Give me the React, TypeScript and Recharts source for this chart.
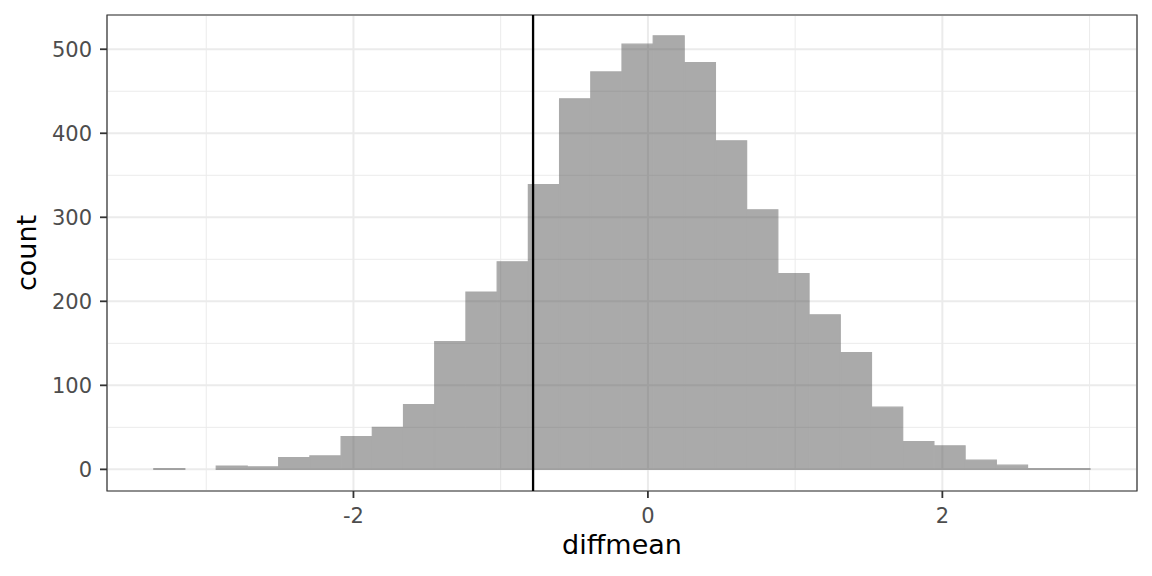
import { Bar, BarChart, CartesianGrid, Label, ReferenceArea, ReferenceLine, XAxis, YAxis } from 'recharts'

// histogram bins (30 bins, width ~0.212)
const binCenters = [
  -3.25, -3.038, -2.826, -2.614, -2.402, -2.19, -1.978, -1.766, -1.554, -1.342,
  -1.13, -0.918, -0.706, -0.494, -0.282, -0.07, 0.142, 0.354, 0.566, 0.778,
  0.99, 1.202, 1.414, 1.626, 1.838, 2.05, 2.262, 2.474, 2.686, 2.898,
]
const counts = [
  1, 0, 4, 3, 14, 16, 39, 50, 77, 152,
  211, 247, 339, 441, 473, 506, 516, 484, 391, 309,
  233, 184, 139, 74, 33, 28, 11, 5, 1, 1,
]

const xTicks = [-2, 0, 2]
const xMinorTicks = [-3, -1, 1, 3]
const yTicks = [0, 100, 200, 300, 400, 500]
const yMinorTicks = [50, 150, 250, 350, 450]
const observedDiff = -0.78

const xDomain: [number, number] = [-3.674, 3.322]
const yDomain: [number, number] = [-25.75, 540.75]

const data = binCenters.map((x, i) => ({ diffmean: x, count: counts[i] }))

const font = '"DejaVu Sans", sans-serif'
const tickStyle = { fill: '#4D4D4D', fontSize: 21, fontFamily: font }

function XTitle({ viewBox }: any) {
  const cx = viewBox.x + viewBox.width / 2
  return (
    <text x={cx} y={554} textAnchor="middle" fontSize={27} fontFamily={font} fill="#000">
      diffmean
    </text>
  )
}

function YTitle({ viewBox }: any) {
  const cy = viewBox.y + viewBox.height / 2
  return (
    <text x={36} y={cy} transform={`rotate(-90 36 ${cy})`} textAnchor="middle" fontSize={27} fontFamily={font} fill="#000">
      count
    </text>
  )
}

// group opacity on the bar layer only, so neighbouring bars don't darken where they touch
const css = `
.recharts-bar.hist-bars { opacity: 0.5; }
.hist-bars .hist-bars { opacity: 1; }
`

export default function App() {
  return (
    <div style={{ position: 'absolute', left: 0, top: 0, width: 1152, height: 576, background: '#fff' }}>
      <style>{css}</style>
      <BarChart width={1152} height={576} data={data} margin={{ top: 15, right: 15, bottom: 0, left: 0 }} barCategoryGap={0} barGap={0}>
        <XAxis xAxisId="minor" type="number" dataKey="diffmean" domain={xDomain} ticks={xMinorTicks} allowDataOverflow hide />
        <YAxis yAxisId="minor" type="number" domain={yDomain} ticks={yMinorTicks} allowDataOverflow hide />
        <CartesianGrid xAxisId="minor" yAxisId="minor" stroke="#EBEBEB" strokeWidth={1} />
        <CartesianGrid stroke="#EBEBEB" strokeWidth={2} />
        <XAxis
          type="number"
          dataKey="diffmean"
          domain={xDomain}
          ticks={xTicks}
          allowDataOverflow
          height={85}
          axisLine={false}
          tickLine={{ stroke: '#333333', strokeWidth: 1.8 }}
          tickSize={7}
          tickMargin={10}
          tick={tickStyle}
        >
          <Label content={XTitle} />
        </XAxis>
        <YAxis
          type="number"
          domain={yDomain}
          ticks={yTicks}
          allowDataOverflow
          width={107}
          axisLine={false}
          tickLine={{ stroke: '#333333', strokeWidth: 1.8 }}
          tickSize={7}
          tickMargin={8}
          tick={tickStyle}
        >
          <Label content={YTitle} />
        </YAxis>
        <Bar
          dataKey="count"
          className="hist-bars"
          fill="#575757"
          stroke="#575757"
          strokeWidth={1.2}
          isAnimationActive={false}
        />
        <ReferenceLine x={observedDiff} stroke="#000" strokeWidth={2.3} />
        <ReferenceArea x1={xDomain[0]} x2={xDomain[1]} y1={yDomain[0]} y2={yDomain[1]} fill="none" stroke="#333333" strokeWidth={1.2} />
      </BarChart>
    </div>
  )
}
